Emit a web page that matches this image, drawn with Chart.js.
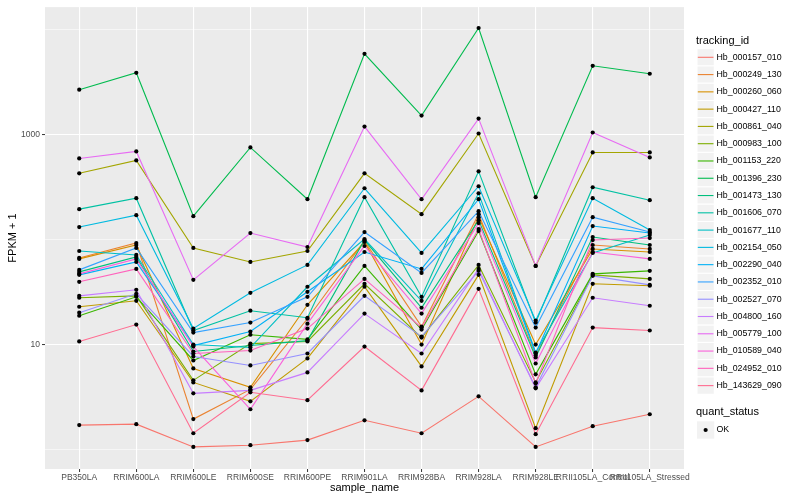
<!DOCTYPE html>
<html>
<head>
<meta charset="utf-8">
<script src="https://cdn.jsdelivr.net/npm/chart.js@4.4.1/dist/chart.umd.min.js"></script>
<style>
  html, body { margin: 0; padding: 0; background: #fff; }
  #wrap { width: 800px; height: 500px; }
</style>
</head>
<body>
<div id="wrap"><canvas id="fpkmChart" width="800" height="500"></canvas></div>
<script>
const sampleNames = ['PB350LA', 'RRIM600LA', 'RRIM600LE', 'RRIM600SE', 'RRIM600PE', 'RRIM901LA',
  'RRIM928BA', 'RRIM928LA', 'RRIM928LE', 'RRII105LA_Control', 'RRII105LA_Stressed'];

const trackingIds = ['Hb_000157_010', 'Hb_000249_130', 'Hb_000260_060', 'Hb_000427_110', 'Hb_000861_040',
  'Hb_000983_100', 'Hb_001153_220', 'Hb_001396_230', 'Hb_001473_130', 'Hb_001606_070', 'Hb_001677_110',
  'Hb_002154_050', 'Hb_002290_040', 'Hb_002352_010', 'Hb_002527_070', 'Hb_004800_160', 'Hb_005779_100',
  'Hb_010589_040', 'Hb_024952_010', 'Hb_143629_090'];

const seriesColors = ['#F8766D', '#EA8331', '#D89000', '#C09B00', '#A3A500', '#7CAE00', '#39B600', '#00BB4E',
  '#00BF7D', '#00C1A3', '#00BFC4', '#00BAE0', '#00B0F6', '#35A2FF', '#9590FF', '#C77CFF', '#E76BF3',
  '#FA62DB', '#FF62BC', '#FF6C91'];

// FPKM + 1, one value per sample
const hb_000157_010 = [1.71, 1.745, 1.06, 1.10, 1.23, 1.90, 1.43, 3.21, 1.06, 1.67, 2.17];
const hb_000249_130 = [66.8, 92.7, 1.95, 3.74, 17.6, 96.8, 14.8, 174.5, 7.87, 88.7, 81.3];
const hb_000260_060 = [65.4, 88.7, 5.92, 3.91, 23.9, 94.7, 10.0, 163.4, 10.0, 81.3, 76.1];
const hb_000427_110 = [22.9, 26.1, 4.36, 2.88, 7.37, 35.5, 6.19, 46.1, 1.60, 37.9, 36.3];
const hb_000861_040 = [427, 567, 83.1, 61.2, 77.8, 427, 174.5, 1022, 56.1, 675, 675];
const hb_000983_100 = [27.9, 29.1, 4.56, 10.2, 10.7, 37.9, 11.65, 57.3, 4.36, 46.1, 42.2];
const hb_001153_220 = [18.8, 28.5, 7.05, 12.4, 11.2, 56.1, 13.9, 120.4, 5.20, 47.1, 50.3];
const hb_001396_230 = [2670, 3870, 167, 753, 242, 5860, 1514, 10330, 253, 4510, 3790];
const hb_001473_130 = [49.2, 68.3, 8.58, 9.78, 10.9, 98.9, 22.4, 153, 7.53, 105.6, 88.7];
const hb_001606_070 = [194.6, 247.4, 13.6, 21.0, 18.0, 252.9, 28.5, 446, 16.2, 314.6, 236.8];
const hb_001677_110 = [77.8, 71.3, 10.0, 9.37, 35.5, 101.1, 26.1, 275.9, 8.40, 74.5, 110.3];
const hb_002154_050 = [131.4, 170.7, 14.2, 31.1, 57.3, 307.7, 74.5, 321.6, 16.9, 247.4, 123.1];
const hb_002290_040 = [46.1, 61.2, 9.78, 13.3, 31.8, 76.1, 52.5, 242, 8.22, 134.3, 115.3];
const hb_002352_010 = [51.4, 83.1, 13.0, 16.2, 28.5, 117.8, 48.1, 186.3, 14.5, 163.4, 117.8];
const hb_002527_070 = [20.1, 30.4, 7.70, 6.32, 8.22, 29.1, 11.9, 50.3, 3.91, 45.1, 37.0];
const hb_004800_160 = [29.1, 33.2, 3.43, 3.66, 5.43, 19.7, 8.22, 52.5, 3.83, 27.9, 23.4];
const hb_005779_100 = [592, 690, 41.3, 115.3, 84.9, 1191, 242, 1418, 56.1, 1045, 605];
const hb_010589_040 = [47.1, 65.4, 9.57, 2.42, 15.8, 86.8, 19.7, 143.4, 6.60, 76.1, 65.4];
const hb_024952_010 = [39.6, 52.5, 8.22, 8.77, 14.2, 42.2, 14.5, 125.8, 4.27, 98.9, 103.3];
const hb_143629_090 = [10.7, 15.5, 1.43, 3.51, 2.95, 9.57, 3.66, 33.9, 1.40, 14.5, 13.6];

const seriesValues = [hb_000157_010, hb_000249_130, hb_000260_060, hb_000427_110, hb_000861_040,
  hb_000983_100, hb_001153_220, hb_001396_230, hb_001473_130, hb_001606_070, hb_001677_110,
  hb_002154_050, hb_002290_040, hb_002352_010, hb_002527_070, hb_004800_160, hb_005779_100,
  hb_010589_040, hb_024952_010, hb_143629_090];

const yTicks = [1, 10, 100, 1000, 10000];
const yLabels = { 10: '10', 1000: '1000' };

const FONT = '"Liberation Sans", Arial, Helvetica, sans-serif';

const toPoints = vals => vals.map((v, i) => ({ x: i, y: v }));

// lines first (later series on top, as in ggplot), then all points above them
const lineSets = seriesValues.map((vals, i) => ({
  label: trackingIds[i],
  data: toPoints(vals),
  borderColor: seriesColors[i],
  borderWidth: 1.1,
  pointRadius: 0,
  fill: false,
  tension: 0,
  order: 100 - i
}));
const pointSets = seriesValues.map((vals, i) => ({
  label: trackingIds[i] + ' OK',
  data: toPoints(vals),
  showLine: false,
  pointRadius: 2.1,
  pointBackgroundColor: '#000',
  pointBorderWidth: 0,
  order: 0
}));

const panelBg = {
  id: 'panelBg',
  beforeDraw(chart) {
    const { ctx, chartArea: a } = chart;
    ctx.save();
    ctx.fillStyle = '#fff';
    ctx.fillRect(0, 0, chart.width, chart.height);
    ctx.fillStyle = '#EBEBEB';
    ctx.fillRect(a.left, a.top, a.right - a.left, a.bottom - a.top);
    ctx.restore();
  }
};

const ggLegend = {
  id: 'ggLegend',
  afterDraw(chart) {
    const ctx = chart.ctx;
    const kx = 697, ks = 17.28;
    ctx.save();
    ctx.textBaseline = 'middle';
    ctx.fillStyle = '#000';
    ctx.font = '11px ' + FONT;
    ctx.fillText('tracking_id', 696, 40.5);
    trackingIds.forEach((id, i) => {
      const cy = 57.3 + i * ks;
      ctx.fillStyle = '#F2F2F2';
      ctx.fillRect(kx, cy - ks / 2, ks, ks);
      ctx.strokeStyle = '#fff';
      ctx.lineWidth = 1;
      ctx.strokeRect(kx, cy - ks / 2, ks, ks);
      ctx.strokeStyle = seriesColors[i];
      ctx.lineWidth = 1.1;
      ctx.beginPath();
      ctx.moveTo(kx + 0.8, cy);
      ctx.lineTo(kx + ks - 0.8, cy);
      ctx.stroke();
      ctx.fillStyle = '#000';
      ctx.font = '8.8px ' + FONT;
      ctx.fillText(id, 716.5, cy);
    });
    ctx.font = '11px ' + FONT;
    ctx.fillText('quant_status', 696, 411.7);
    const cy = 430;
    ctx.fillStyle = '#F2F2F2';
    ctx.fillRect(kx, cy - ks / 2, ks, ks);
    ctx.fillStyle = '#000';
    ctx.beginPath();
    ctx.arc(kx + ks / 2, cy, 2.1, 0, Math.PI * 2);
    ctx.fill();
    ctx.font = '8.8px ' + FONT;
    ctx.fillText('OK', 716.5, cy);
    ctx.restore();
  }
};

new Chart(document.getElementById('fpkmChart').getContext('2d'), {
  type: 'line',
  data: { datasets: [...pointSets, ...lineSets] },
  plugins: [panelBg, ggLegend],
  options: {
    responsive: false,
    animation: false,
    devicePixelRatio: 1,
    layout: { padding: { top: 5, right: 116, left: 0, bottom: 0 } },
    plugins: { legend: { display: false }, tooltip: { enabled: false } },
    scales: {
      x: {
        type: 'linear',
        min: -0.6,
        max: 10.6,
        afterBuildTicks: scale => { scale.ticks = sampleNames.map((n, i) => ({ value: i })); },
        afterFit: scale => { scale.height = 31; },
        ticks: {
          autoSkip: false,
          maxRotation: 0,
          padding: 1,
          color: '#4D4D4D',
          font: { family: FONT, size: 8.5 },
          callback: v => sampleNames[v] ?? ''
        },
        grid: { color: '#fff', lineWidth: 1.1, tickLength: 3, tickColor: '#333', tickWidth: 1 },
        border: { display: false },
        title: { display: true, text: 'sample_name', color: '#000', font: { family: FONT, size: 11 }, padding: { top: 0, bottom: 5 } }
      },
      y: {
        type: 'logarithmic',
        min: 0.653,
        max: 16340,
        afterBuildTicks: scale => { scale.ticks = yTicks.map(v => ({ value: v, major: v in yLabels })); },
        afterFit: scale => { scale.width = 45; },
        ticks: {
          padding: 2,
          color: '#4D4D4D',
          font: { family: FONT, size: 8.5 },
          callback: v => yLabels[v] ?? ''
        },
        grid: {
          color: '#fff',
          lineWidth: c => (c.tick && yLabels[c.tick.value]) ? 1.1 : 0.55,
          tickLength: 3,
          tickWidth: 1,
          tickColor: c => (c.tick && yLabels[c.tick.value]) ? '#333' : 'rgba(0,0,0,0)'
        },
        border: { display: false },
        title: { display: true, text: 'FPKM + 1', color: '#000', font: { family: FONT, size: 11 }, padding: { top: 6, bottom: 0 } }
      }
    }
  }
});
</script>
</body>
</html>
